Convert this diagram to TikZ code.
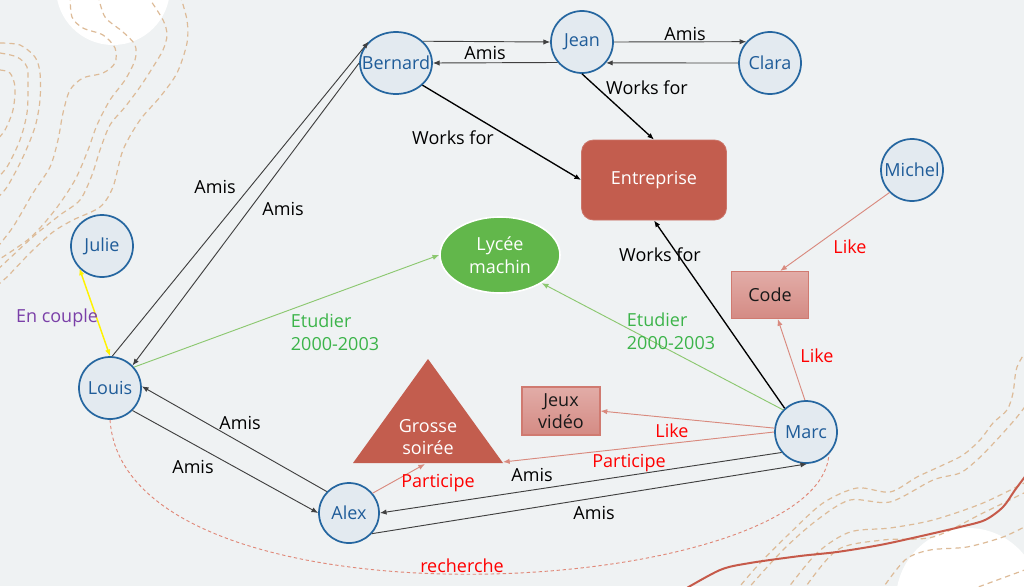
\documentclass[tikz,border=0pt]{standalone}
\usepackage{fontspec}
\setmainfont{Open Sans}
\usetikzlibrary{shapes.geometric,arrows.meta}
\definecolor{bg}{HTML}{EFF2F3}
\definecolor{nodefill}{HTML}{E3EAF0}
\definecolor{nodeblue}{HTML}{2566A0}
\definecolor{nodetext}{HTML}{1F5C99}
\definecolor{brick}{HTML}{C35D4E}
\definecolor{lgreen}{HTML}{62B74B}
\definecolor{salmon}{HTML}{D98A7E}
\definecolor{edgegreen}{HTML}{8CC870}
\definecolor{labgreen}{HTML}{3CB44A}
\definecolor{purp}{HTML}{7A3FA8}
\definecolor{tanline}{HTML}{DDBB98}
\definecolor{redcurve}{HTML}{C65A4A}
\definecolor{boxtop}{HTML}{E2ACA7}
\definecolor{boxbot}{HTML}{D48B84}
\definecolor{boxborder}{HTML}{D07A70}
\definecolor{rech}{HTML}{E08878}
\begin{document}
\begin{tikzpicture}[x=0.75pt,y=-0.75pt,
  font=\fontsize{13.5}{17}\selectfont,
  person/.style={circle, draw=nodeblue, line width=1.3pt, fill=nodefill,
    text=nodetext, inner sep=0pt, minimum size=46.5pt},
  thing/.style={rectangle, draw=boxborder, line width=0.8pt, top color=boxtop,
    bottom color=boxbot, text=black!90, align=center, inner sep=0pt},
  tip/.style={-{Latex[length=5pt,width=4pt]}},
  amis/.style={tip, draw=black!75, line width=0.7pt},
  works/.style={tip, draw=black, line width=1pt},
  like/.style={tip, draw=salmon, line width=0.7pt},
  study/.style={tip, draw=edgegreen, line width=0.7pt},
  couple/.style={{Latex[length=5pt,width=4pt]}-{Latex[length=5pt,width=4pt]}, draw=yellow, line width=1.1pt},
  recherche/.style={draw=rech, line width=0.7pt, dash pattern=on 2.5pt off 2pt},
  lab/.style={inner sep=0pt, text=black},
  redlab/.style={inner sep=0pt, text=red},
  greenlab/.style={inner sep=0pt, text=labgreen, align=left},
  contour/.style={draw=tanline, line width=0.9pt, dash pattern=on 4pt off 3pt}
]
\useasboundingbox (0,0) rectangle (1024,586);
\fill[bg] (0,0) rectangle (1024,586);

\begin{scope}
\clip (0,0) rectangle (1024,586);
\fill[white] (113,-12) circle[radius=57];
\fill[white] (968,600) circle[radius=72];
% top-left contours
\draw[contour] plot[smooth] coordinates {(0,43) (20,45) (35,57) (40,73) (40,100) (35,127) (23,157) (7,187) (-5,200)};
\draw[contour] plot[smooth] coordinates {(0,53) (17,57) (27,67) (28,87) (27,113) (20,140) (7,167) (-5,180)};
\draw[contour] plot[smooth] coordinates {(0,70) (10,73) (15,87) (13,110) (5,130) (-5,142)};
\draw[contour] plot[smooth] coordinates {(70,-5) (72,17) (83,28) (103,35) (115,48) (115,63) (103,73) (83,78) (70,90) (63,113) (58,140) (50,167) (33,193) (13,227) (-5,250)};
\draw[contour] plot[smooth] coordinates {(98,-5) (105,17) (123,32) (135,45) (135,60) (125,80) (110,100) (97,125) (88,150) (75,180) (55,210) (30,238) (-5,262)};
\draw[contour] plot[smooth] coordinates {(147,-5) (163,20) (167,35) (163,50) (153,67) (140,87) (125,107) (110,125) (100,150) (92,175) (80,200) (60,215) (35,235) (10,258) (-5,272)};
\draw[contour] plot[smooth] coordinates {(180,-5) (187,20) (187,43) (177,73) (160,97) (140,120) (123,150) (113,187) (100,207) (73,220) (53,232) (30,253) (7,277) (-5,287)};
% bottom-right contours
\draw[contour] plot[smooth] coordinates {(735,592) (760,563) (790,533) (823,503) (857,488) (890,492) (917,477) (943,465) (963,455) (980,440) (993,423) (1007,410) (1013,393) (1017,367) (1030,345)};
\draw[contour] plot[smooth] coordinates {(745,592) (783,550) (817,520) (850,500) (890,502) (933,480) (960,473) (977,460) (990,447) (1003,433) (1017,417) (1030,400)};
\draw[contour] plot[smooth] coordinates {(785,592) (817,553) (850,532) (890,528) (933,520) (983,503) (1030,480)};
\draw[contour] plot[smooth] coordinates {(802,592) (837,550) (883,540) (933,537) (983,513) (1030,490)};
\draw[contour] plot[smooth] coordinates {(880,592) (905,560) (930,550) (967,547) (1003,537) (1030,524)};
\draw[contour] plot[smooth] coordinates {(970,590) (1030,568)};
% red curve
\draw[redcurve, line width=1.5pt] plot[smooth] coordinates {(680,592) (720,570) (750,563) (800,556) (837,552) (880,545) (917,537) (960,527) (985,520) (1003,507) (1015,490) (1030,470)};
\end{scope}

% nodes
\node[person] (Bernard) at (396,63) [ellipse, minimum width=54pt, minimum height=46.5pt] {\makebox[0pt]{Bernard}};
\node[person] (Jean) at (582,42) {\makebox[0pt]{Jean}};
\node[person] (Clara) at (770,63) {\makebox[0pt]{Clara}};
\node[person] (Michel) at (912,170) {\makebox[0pt]{Michel}};
\node[person] (Julie) at (102,246) {\makebox[0pt]{Julie}};
\node[person] (Louis) at (110,388) {\makebox[0pt]{Louis}};
\node[person, minimum size=45pt] (Alex) at (349,513) {\makebox[0pt]{Alex}};
\node[person] (Marc) at (806,432) {\makebox[0pt]{Marc}};
\node[rectangle, rounded corners=9pt, fill=brick, draw=brick!85!white, line width=0.6pt,
  minimum width=108.75pt, minimum height=60pt, text=white] (Entreprise) at (654,180) {Entreprise};
\node[ellipse, fill=lgreen, draw=white, line width=1.2pt, minimum width=90pt,
  minimum height=57pt, inner sep=0pt, text=white, align=center] (Lycee) at (500,255) {Lycée\\machin};
\node[thing, minimum width=57.75pt, minimum height=35.25pt] (Code) at (770,295) {Code};
\node[thing, minimum width=58.5pt, minimum height=36pt] (Jeux) at (561,411) {Jeux\\vidéo};
\fill[brick] (353,463) -- (428,359) -- (503,463) -- cycle;
\node[text=white, align=center, inner sep=0pt] (Soiree) at (428,437) {Grosse\\soirée};
\coordinate (soireeR) at (503,462);
\coordinate (soireeB) at (425,464);

% connectors
\draw[amis] (Louis.86) -- (Bernard.142);
\draw[amis] (Bernard.180) -- (Louis.45);
\draw[amis] (Bernard.39) -- (Jean.180);
\draw[amis] (Jean.220) -- (Bernard.0);
\draw[amis] (Jean.0) -- (Clara.138);
\draw[amis] (Clara.180) -- (Jean.-41);
\draw[works] (Jean.-90) -- (Entreprise.north);
\draw[works] (Bernard.-40) -- (Entreprise.west);
\draw[works] (Marc.132) -- (Entreprise.south);
\draw[like] (Michel.225) -- (Code.67);
\draw[like] (Marc.92) -- (Code.-72);
\draw[like] (Marc.173) -- (Jeux.east);
\draw[like] (Marc.180) -- (soireeR);
\draw[like] (Alex.40) -- (soireeB);
\draw[amis] (Marc.220) -- (Alex.0);
\draw[amis] (Alex.-42) -- (Marc.-88);
\draw[amis] (Louis.-45) -- (Alex.180);
\draw[amis] (Alex.136) -- (Louis.3);
\draw[couple] (Julie.225) -- (Louis.90);
\draw[study] (Louis.41) -- (Lycee.west);
\draw[study] (Marc.136) -- (Lycee.-34);
\draw[recherche] (Louis.-90) .. controls (125,640) and (820,600) .. (Marc.-44);

% labels
\node[lab] (l1) at (215,187) {Amis};
\node[lab] (l2) at (283,209) {Amis};
\node[lab] (l3) at (485,53) {Amis};
\node[lab] (l4) at (685,34) {Amis};
\node[lab] (l5) at (647,88) {Works for};
\node[lab] (l6) at (453,138) {Works for};
\node[lab] (l7) at (660,255) {Works for};
\node[redlab] (l8) at (850,247) {Like};
\node[redlab] (l9) at (817,356) {Like};
\node[redlab] (l10) at (672,431) {Like};
\node[redlab] (l11) at (629,463) {Participe};
\node[redlab] (l12) at (438,483) {Participe};
\node[lab] (l13) at (532,475) {Amis};
\node[lab] (l14) at (594,513) {Amis};
\node[lab] (l15) at (240,423) {Amis};
\node[lab] (l16) at (193,467) {Amis};
\node[inner sep=0pt, text=purp] (l17) at (57,318) {En couple};
\node[greenlab] (l18) at (335,332) {Etudier\\2000-2003};
\node[greenlab] (l19) at (671,331) {Etudier\\2000-2003};
\node[redlab] (l20) at (462,566) {recherche};
\end{tikzpicture}
\end{document}
